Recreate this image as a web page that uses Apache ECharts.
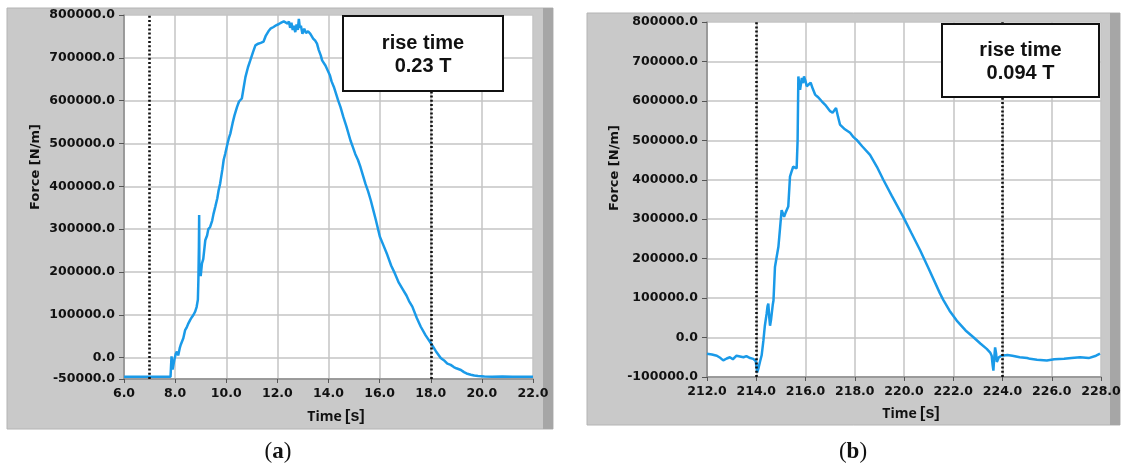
<!DOCTYPE html>
<html><head><meta charset="utf-8">
<script src="https://cdn.jsdelivr.net/npm/echarts@6/dist/echarts.min.js"></script>
<style>html,body{margin:0;padding:0;background:#fff}#c{width:1124px;height:470px}</style>
</head><body><div id="c"></div><script>
// ---- data (a) ----
const seriesA = [
 [6.0,-45000],[6.5,-45000],[6.52,-43000],[6.54,-45000],[7.0,-45000],[7.5,-45000],[7.82,-45000],[7.84,-20000],[7.86,3000],[7.88,-10000],
 [7.9,-28000],[7.93,-25000],[7.97,-5000],[8.02,8000],[8.07,14000],[8.12,5000],[8.18,22000],[8.22,30000],[8.26,26000],[8.32,45000],
 [8.39,64000],[8.45,70000],[8.52,80000],[8.59,88000],[8.66,95000],[8.72,100000],[8.78,107000],[8.84,118000],[8.89,135000],[8.91,181000],
 [8.93,260000],[8.94,333000],[8.95,197000],[8.97,215000],[9.0,190000],[9.05,220000],[9.1,230000],[9.18,274000],[9.25,285000],[9.3,300000],
 [9.37,305000],[9.45,320000],[9.5,335000],[9.57,352000],[9.65,372000],[9.7,390000],[9.76,406000],[9.85,440000],[9.9,462000],[9.96,476000],
 [10.05,500000],[10.1,512000],[10.16,523000],[10.25,548000],[10.32,565000],[10.42,585000],[10.5,598000],[10.55,602000],[10.61,605000],[10.68,630000],
 [10.75,655000],[10.85,678000],[10.94,694000],[11.04,712000],[11.14,729000],[11.25,733000],[11.35,735000],[11.46,738000],[11.55,752000],[11.65,762000],
 [11.73,768000],[11.85,772000],[11.95,776000],[12.06,779000],[12.15,782000],[12.25,785000],[12.31,787000],[12.4,780000],[12.45,785000],[12.5,770000],
 [12.55,782000],[12.6,765000],[12.64,775000],[12.7,760000],[12.75,778000],[12.8,765000],[12.84,791000],[12.88,770000],[12.92,775000],[12.98,756000],
 [13.05,768000],[13.12,758000],[13.2,762000],[13.29,756000],[13.4,745000],[13.48,740000],[13.55,733000],[13.62,718000],[13.7,705000],[13.75,694000],
 [13.82,690000],[13.88,682000],[13.95,678000],[14.05,660000],[14.12,645000],[14.21,632000],[14.3,615000],[14.38,600000],[14.47,585000],[14.58,562000],
 [14.7,540000],[14.86,507000],[14.95,492000],[15.05,475000],[15.15,462000],[15.25,445000],[15.35,425000],[15.45,405000],[15.55,388000],[15.65,368000],
 [15.75,345000],[15.85,322000],[16.01,282000],[16.15,262000],[16.3,240000],[16.45,215000],[16.6,196000],[16.75,175000],[16.9,160000],[17.05,145000],
 [17.15,132000],[17.28,119000],[17.45,93000],[17.61,72000],[17.8,52000],[18.0,34000],[18.2,15000],[18.39,-1000],[18.55,-8000],[18.65,-14000],
 [18.78,-17000],[18.9,-22000],[19.0,-25000],[19.18,-29000],[19.3,-34000],[19.4,-37000],[19.57,-40000],[19.7,-42000],[19.85,-43000],[20.1,-44000],
 [20.4,-45000],[20.8,-44000],[21.2,-45000],[21.6,-44500],[22.0,-45000]
];
// ---- data (b) ----
const seriesB = [
 [212.0,-41000],[212.2,-43000],[212.4,-46000],[212.55,-52000],[212.66,-58000],[212.8,-53000],[212.93,-50000],[213.05,-55000],[213.2,-46000],[213.34,-48000],
 [213.48,-50000],[213.6,-47000],[213.75,-52000],[213.88,-54000],[213.98,-60000],[214.04,-88000],[214.08,-80000],[214.15,-62000],[214.22,-45000],[214.29,-8000],
 [214.35,30000],[214.42,60000],[214.46,80000],[214.49,86000],[214.53,50000],[214.56,30000],[214.6,45000],[214.67,83000],[214.7,94000],[214.76,179000],
 [214.83,205000],[214.9,230000],[214.97,280000],[215.03,323000],[215.08,315000],[215.13,306000],[215.2,318000],[215.3,332000],[215.37,408000],[215.43,420000],
 [215.5,433000],[215.58,435000],[215.64,429000],[215.68,501000],[215.71,662000],[215.75,640000],[215.78,628000],[215.85,658000],[215.9,645000],[215.94,662000],
 [216.0,650000],[216.05,637000],[216.12,640000],[216.21,646000],[216.3,630000],[216.39,616000],[216.5,610000],[216.66,599000],[216.8,590000],[217.0,574000],
 [217.1,570000],[217.24,582000],[217.32,560000],[217.4,540000],[217.6,528000],[217.81,519000],[217.95,508000],[218.08,501000],[218.3,485000],[218.62,463000],
 [218.9,433000],[219.16,400000],[219.5,360000],[219.97,306000],[220.3,265000],[220.65,222000],[221.0,175000],[221.46,112000],[221.6,95000],[221.85,68000],
 [222.14,43000],[222.5,18000],[222.82,800],[223.1,-15000],[223.36,-28700],[223.5,-38000],[223.56,-46000],[223.6,-70000],[223.63,-84000],[223.66,-55000],
 [223.7,-25000],[223.74,-40000],[223.77,-62000],[223.85,-50000],[223.97,-46000],[224.2,-44000],[224.4,-46000],[224.7,-50000],[225.0,-52000],[225.12,-54000],
 [225.4,-56000],[225.8,-58000],[226.1,-55000],[226.5,-54000],[226.8,-52000],[227.15,-50000],[227.5,-52000],[227.8,-46000],[227.96,-41000]
];
const yTicksA = [-50000,0,100000,200000,300000,400000,500000,600000,700000,800000];
const markersA = [7.0, 18.0];
const markersB = [214.0, 224.0];
const boxTextA = ['rise time', '0.23 T'];
const boxTextB = ['rise time', '0.094 T'];
const yName = 'Force [N/m]';
const xNameMain = 'Time';
const xNameUnit = '[s]';
const panelLabels = ['a', 'b'];

const NUMFONT = 'DejaVu Sans';
const fmt = v => v.toFixed(1);
const lineColor = '#1a9ae8';
const gridCol = '#c4c4c4';

function xAx(gi, mn, mx) {
  return {gridIndex: gi, type: 'value', min: mn, max: mx, interval: 2,
    axisLine: {show: true, onZero: false, lineStyle: {color: '#8a8a8a', width: 1.5}},
    axisTick: {show: true, length: 4, lineStyle: {color: '#555', width: 1}},
    axisLabel: {formatter: fmt, color: '#111', fontFamily: NUMFONT, fontWeight: 'bold', fontSize: 12.5, margin: 8},
    splitLine: {show: true, lineStyle: {color: gridCol, width: 1.5}}};
}
function yAx(gi, mn, mx, custom) {
  const a = {gridIndex: gi, type: 'value', min: mn, max: mx,
    axisLine: {show: true, onZero: false, lineStyle: {color: '#8a8a8a', width: 1.5}},
    axisTick: {show: true, length: 5, lineStyle: {color: '#555', width: 1}},
    axisLabel: {formatter: fmt, color: '#111', fontFamily: NUMFONT, fontWeight: 'bold', fontSize: 12.5, margin: 9},
    splitLine: {show: true, lineStyle: {color: gridCol, width: 1.5}}};
  if (custom) { a.axisLabel.customValues = custom; a.axisTick.customValues = custom; }
  else { a.interval = 100000; }
  return a;
}
function ser(idx, data, markers) {
  return {type: 'line', xAxisIndex: idx, yAxisIndex: idx, data: data, showSymbol: false, symbol: 'none',
    lineStyle: {color: lineColor, width: 2.5}, z: 3,
    markLine: {symbol: ['none', 'none'], silent: true, label: {show: false},
      lineStyle: {type: [2, 2.2], color: '#111', width: 2.6},
      data: markers.map(v => ({xAxis: v}))}};
}
function panel(x, y, w, h, stripX) {
  return [
    {type: 'rect', z: -20, shape: {x: x, y: y, width: w, height: h}, style: {fill: '#c9c9c9', stroke: '#b4b4b4', lineWidth: 1}},
    {type: 'rect', z: -19, shape: {x: stripX, y: y, width: x + w - stripX, height: h}, style: {fill: '#a6a6a6'}}
  ];
}
function plotBg(x, y, w, h) {
  return {type: 'rect', z: -15, shape: {x: x, y: y, width: w, height: h}, style: {fill: '#ffffff'}};
}
function box(x, y, w, h, lines, ty1, ty2) {
  const cx = x + w / 2;
  return [
    {type: 'rect', z: 100, shape: {x: x, y: y, width: w, height: h}, style: {fill: '#fff', stroke: '#111', lineWidth: 2}},
    {type: 'text', z: 101, x: cx, y: ty1, style: {text: lines[0], fill: '#111', font: 'bold 20px "Liberation Sans", Arial, sans-serif', align: 'center', verticalAlign: 'middle'}},
    {type: 'text', z: 101, x: cx, y: ty2, style: {text: lines[1], fill: '#111', font: 'bold 20px "Liberation Sans", Arial, sans-serif', align: 'center', verticalAlign: 'middle'}}
  ];
}
function yTitle(x, y) {
  return {type: 'text', z: 5, x: x, y: y, rotation: Math.PI / 2,
    style: {text: yName, fill: '#111', font: 'bold 13px "DejaVu Sans"', align: 'center', verticalAlign: 'middle'}};
}
function xTitle(x, y) {
  return {type: 'text', z: 5, x: x, y: y,
    style: {text: '{a|' + xNameMain + '} {b|' + xNameUnit + '}', align: 'center', verticalAlign: 'middle',
      rich: {a: {font: 'bold 14px "Open Sans"', fill: '#111'}, b: {font: 'bold 16px "Liberation Sans"', fill: '#111'}}}};
}
function pLabel(x, y, l) {
  return {type: 'text', z: 5, x: x, y: y,
    style: {text: '{p|(}{l|' + l + '}{p|)}', align: 'center', verticalAlign: 'middle',
      rich: {p: {font: '23px "Liberation Serif"', fill: '#111'}, l: {font: 'bold 23px "Liberation Serif"', fill: '#111'}}}};
}

const chart = echarts.init(document.getElementById('c'), null, {renderer: 'canvas'});
chart.setOption({
  animation: false,
  grid: [
    {left: 124, top: 15, width: 409, height: 364, show: false},
    {left: 707, top: 22, width: 394, height: 355, show: false}
  ],
  xAxis: [xAx(0, 6, 22), xAx(1, 212, 228)],
  yAxis: [yAx(0, -50000, 800000, yTicksA), yAx(1, -100000, 800000, null)],
  series: [ser(0, seriesA, markersA), ser(1, seriesB, markersB)],
  graphic: {elements: [].concat(
    panel(7, 8, 546, 421, 543),
    panel(587, 13, 533, 412, 1110),
    [plotBg(124, 15, 409, 364), plotBg(707, 22, 394, 355)],
    box(343, 16, 160, 75, boxTextA, 43, 66),
    box(942, 24, 157, 73, boxTextB, 50, 73),
    [yTitle(36, 167), yTitle(615, 168), xTitle(336, 417), xTitle(911, 414),
     pLabel(278, 452, panelLabels[0]), pLabel(853, 452, panelLabels[1])]
  )}
});
</script></body></html>
